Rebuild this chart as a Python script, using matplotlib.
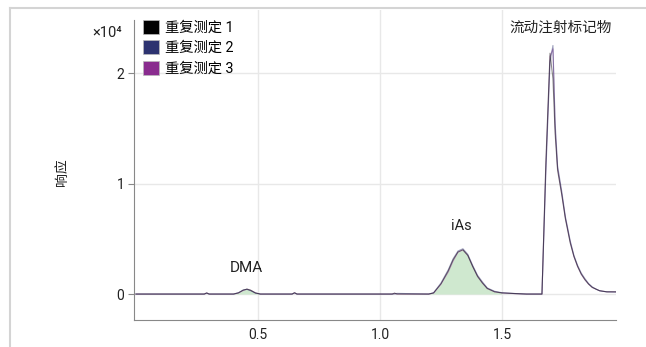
import matplotlib
matplotlib.use('Agg')
import matplotlib.pyplot as plt
from matplotlib.patches import Patch
from matplotlib.lines import Line2D

# retention time (min) and response (x10^4) for the three replicates
time = [0.0, 0.28, 0.29, 0.30, 0.40, 0.42, 0.44, 0.455, 0.47, 0.49, 0.51,
        0.64, 0.65, 0.66, 1.05, 1.06, 1.07, 1.20, 1.22, 1.25, 1.28, 1.30,
        1.32, 1.34, 1.36, 1.38, 1.40, 1.42, 1.44, 1.47, 1.50, 1.55, 1.60,
        1.664, 1.68, 1.697, 1.709, 1.718, 1.728, 1.745, 1.76, 1.78, 1.795,
        1.81, 1.825, 1.84, 1.855, 1.87, 1.885, 1.90, 1.915, 1.93, 1.967]
rep1 = [0.0, 0.0, 0.01, 0.0, 0.0, 0.01, 0.035, 0.045, 0.035, 0.01, 0.0,
        0.0, 0.012, 0.0, 0.0, 0.008, 0.0, 0.0, 0.01, 0.09, 0.21, 0.31,
        0.38, 0.40, 0.35, 0.25, 0.16, 0.10, 0.05, 0.02, 0.01, 0.005, 0.0,
        0.0, 1.20, 2.18, 1.95, 1.45, 1.12, 0.90, 0.68, 0.46, 0.34,
        0.25, 0.18, 0.13, 0.09, 0.06, 0.045, 0.03, 0.025, 0.02, 0.02]
rep2 = [0.0, 0.0, 0.008, 0.0, 0.0, 0.012, 0.038, 0.042, 0.03, 0.008, 0.0,
        0.0, 0.01, 0.0, 0.0, 0.0, 0.006, 0.0, 0.012, 0.10, 0.22, 0.32,
        0.39, 0.41, 0.36, 0.26, 0.17, 0.11, 0.055, 0.025, 0.012, 0.005, 0.0,
        0.0, 1.10, 2.10, 2.25, 1.55, 1.16, 0.93, 0.70, 0.48, 0.35,
        0.26, 0.19, 0.14, 0.095, 0.065, 0.045, 0.03, 0.024, 0.02, 0.018]
rep3 = [0.0, 0.0, 0.01, 0.0, 0.0, 0.01, 0.033, 0.044, 0.034, 0.01, 0.0,
        0.0, 0.011, 0.0, 0.0, 0.007, 0.0, 0.0, 0.009, 0.09, 0.20, 0.30,
        0.38, 0.40, 0.35, 0.25, 0.16, 0.10, 0.05, 0.02, 0.01, 0.004, 0.0,
        0.0, 1.15, 2.15, 2.22, 1.50, 1.14, 0.91, 0.69, 0.47, 0.34,
        0.25, 0.18, 0.13, 0.09, 0.06, 0.045, 0.03, 0.025, 0.02, 0.02]

rep_labels = ['重复测定 1', '重复测定 2', '重复测定 3']
rep_colors = ['#000000', '#2d3370', '#8a2c8f']

peak_labels = ['DMA', 'iAs', '流动注射标记物']
peak_pos = [(0.452, 0.235), (1.335, 0.62), (1.74, 2.41)]
fill_ranges = [(0.40, 0.51), (1.20, 1.50)]

x_ticks = [0.5, 1.0, 1.5]
y_ticks = [0, 1, 2]

plt.rcParams['font.family'] = ['Roboto', 'Noto Sans CJK SC', 'DejaVu Sans']

fig = plt.figure(figsize=(6.46, 3.47), dpi=100)
ax = fig.add_axes([0.2074, 0.0778, 0.746, 0.893])

# outer frame (top and left edges only)
fig.add_artist(Line2D([0.0155, 1.0], [0.977, 0.977], transform=fig.transFigure,
                      color='#d4d4d4', lw=1.5))
fig.add_artist(Line2D([0.0155, 0.0155], [0.0, 0.977], transform=fig.transFigure,
                      color='#d4d4d4', lw=1.5))

ax.set_xlim(-0.008, 1.967)
ax.set_ylim(-0.235, 2.57)

for xv in x_ticks:
    ax.axvline(xv, color='#e8e8e8', lw=1, zorder=0)
for yv in y_ticks:
    ax.axhline(yv, color='#e8e8e8', lw=1, zorder=0)

# green fill under the arsenic peaks
for lo, hi in fill_ranges:
    xs = [t for t in time if lo <= t <= hi]
    ys = [rep1[i] for i, t in enumerate(time) if lo <= t <= hi]
    ax.fill_between(xs, 0, ys, color='#cfe8cf', lw=0, zorder=1)

# purple drawn first, black last so the overlap reads grey-purple
series = list(zip([rep1, rep2, rep3], rep_colors))
for ys, c in reversed(series):
    ax.plot(time, ys, color=c, lw=0.8, alpha=0.45, zorder=2)

for lab, (px, py) in zip(peak_labels, peak_pos):
    fs = 10.5 if lab != 'DMA' else 11
    ax.text(px, py, lab, ha='center', va='center', fontsize=fs, color='#222222')

ax.spines['top'].set_visible(False)
ax.spines['right'].set_visible(False)
ax.spines['left'].set_color('#888888')
ax.spines['bottom'].set_color('#888888')
ax.spines['left'].set_bounds(-0.235, 2.48)

ax.set_xticks(x_ticks)
ax.set_xticklabels(['0.5', '1.0', '1.5'])
ax.set_yticks(y_ticks)
ax.set_yticklabels(['0', '1', '2'])
ax.tick_params(axis='x', length=0, pad=6, labelsize=10, labelcolor='#222222')
ax.tick_params(axis='y', length=4, width=0.8, color='#888888', pad=3,
               labelsize=10, labelcolor='#222222')

ax.text(-0.025, 0.925, '×10⁴', transform=ax.transAxes, ha='right', va='center',
        fontsize=10.5, color='#222222')
fig.text(0.096, 0.505, '响应', rotation=90, ha='center', va='center',
         fontsize=10, color='#222222')

handles = [Patch(facecolor=c, edgecolor='#bbbbbb', lw=0.5) for c in rep_colors]
ax.legend(handles, rep_labels, loc='upper left',
          bbox_to_anchor=(143 / 646, 1 - 20 / 347), bbox_transform=fig.transFigure,
          frameon=False, fontsize=10.3, handlelength=1.1, handleheight=1.1,
          handletextpad=0.45, labelspacing=0.4, borderpad=0, borderaxespad=0)

fig.savefig('out.png', dpi=100)
